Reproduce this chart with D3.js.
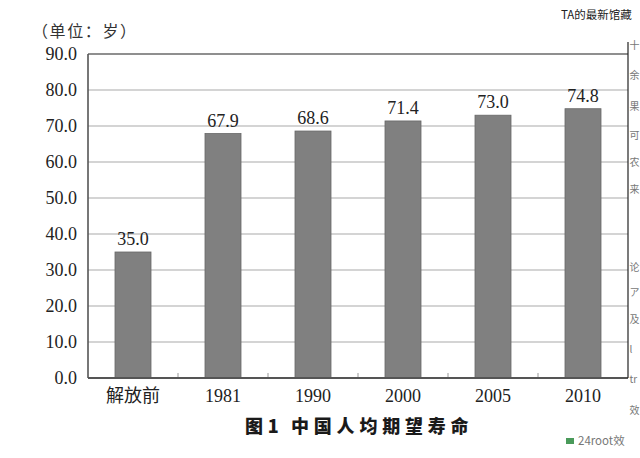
<!DOCTYPE html>
<html>
<head>
<meta charset="utf-8">
<script src="https://cdn.jsdelivr.net/npm/d3@7"></script>
<style>
  html, body { margin: 0; padding: 0; background: #fff; overflow: hidden; }
  svg { display: block; }
</style>
</head>
<body>
<svg id="chart" width="640" height="458"></svg>
<script>
const categories = ["解放前", "1981", "1990", "2000", "2005", "2010"];
const lifeExpectancy = [35.0, 67.9, 68.6, 71.4, 73.0, 74.8];
const yTicks = [0, 10, 20, 30, 40, 50, 60, 70, 80, 90];
const unitLabel = "（单位：岁）";
const titleLabel = ["图1", "中国人均期望寿命"];
const sidebarTitle = "TA的最新馆藏";
const sidebarFragments = ["十", "余", "果", "可", "农", "来", "论", "ア", "及", "l", "tr", "效"];
const sidebarFooter = "24root效";

const svg = d3.select("#chart");
const serif = "'Liberation Serif', 'Times New Roman', 'Noto Sans CJK SC', serif";
const cjk = "'Noto Sans CJK SC', sans-serif";

const x = d3.scaleBand().domain(categories).range([88, 628]).paddingInner(0.6).paddingOuter(0.3);
const y = d3.scaleLinear().domain([0, 90]).range([378, 54]);

// gridlines
svg.append("g").selectAll("line").data(yTicks.filter(d => d > 0 && d < 90)).join("line")
  .attr("x1", 88).attr("x2", 628)
  .attr("y1", d => y(d)).attr("y2", d => y(d))
  .attr("stroke", "#a9a9a9").attr("stroke-width", 1.2);

// top frame line
svg.append("line").attr("x1", 88).attr("x2", 628).attr("y1", y(90)).attr("y2", y(90))
  .attr("stroke", "#6a6a6a").attr("stroke-width", 1.4);

// y tick labels
svg.append("g").selectAll("text").data(yTicks).join("text")
  .attr("x", 77).attr("y", d => y(d) + 6)
  .attr("text-anchor", "end")
  .attr("font-family", serif).attr("font-size", 18).attr("fill", "#222")
  .text(d => d3.format(".1f")(d));

// bars
svg.append("g").selectAll("rect").data(lifeExpectancy).join("rect")
  .attr("x", (d, i) => x(categories[i]))
  .attr("y", d => y(d))
  .attr("width", x.bandwidth())
  .attr("height", d => y(0) - y(d))
  .attr("fill", "#808080")
  .attr("stroke", "#666").attr("stroke-width", 0.8);

// value labels
svg.append("g").selectAll("text").data(lifeExpectancy).join("text")
  .attr("x", (d, i) => x(categories[i]) + x.bandwidth() / 2)
  .attr("y", d => y(d) - 7)
  .attr("text-anchor", "middle")
  .attr("font-family", serif).attr("font-size", 18).attr("fill", "#222")
  .text(d => d3.format(".1f")(d));

// category boundary ticks
svg.append("g").selectAll("line").data(categories.slice(1)).join("line")
  .attr("x1", d => x(d) - x.step() * x.paddingInner() / 2)
  .attr("x2", d => x(d) - x.step() * x.paddingInner() / 2)
  .attr("y1", y(0)).attr("y2", y(0) - 5)
  .attr("stroke", "#999").attr("stroke-width", 1);

// axes lines
svg.append("line").attr("x1", 88).attr("x2", 88).attr("y1", y(90)).attr("y2", y(0))
  .attr("stroke", "#555").attr("stroke-width", 1.6);
svg.append("line").attr("x1", 88).attr("x2", 628).attr("y1", y(0)).attr("y2", y(0))
  .attr("stroke", "#555").attr("stroke-width", 1.8);

// x labels
svg.append("g").selectAll("text").data(categories).join("text")
  .attr("x", d => x(d) + x.bandwidth() / 2)
  .attr("y", 402)
  .attr("text-anchor", "middle")
  .attr("font-family", serif).attr("font-size", 18).attr("fill", "#222")
  .text(d => d);

// unit label
svg.append("text").attr("x", 32).attr("y", 37)
  .attr("font-family", serif).attr("font-size", 16).attr("fill", "#333")
  .attr("letter-spacing", 1.6)
  .text(unitLabel);

// title
const title = svg.append("text").attr("y", 433)
  .attr("font-family", cjk).attr("font-size", 18).attr("font-weight", 900)
  .attr("fill", "#1a1a1a").attr("letter-spacing", 4.8);
title.append("tspan").attr("x", 245).text(titleLabel[0]);
title.append("tspan").attr("x", 291).text(titleLabel[1]);

// right sidebar (partially visible web page overlay)
svg.append("line").attr("x1", 628).attr("x2", 628).attr("y1", 42).attr("y2", 378)
  .attr("stroke", "#222").attr("stroke-width", 1.2);
svg.append("text").attr("x", 561).attr("y", 19)
  .attr("font-family", cjk).attr("font-size", 11.5).attr("fill", "#222")
  .text(sidebarTitle);
const fragY = [49, 79, 110, 139, 166, 193, 271, 296, 323, 353, 383, 414];
svg.append("g").selectAll("text").data(sidebarFragments).join("text")
  .attr("x", 629.5)
  .attr("y", (d, i) => fragY[i])
  .attr("font-family", cjk).attr("font-size", 10).attr("fill", "#777")
  .text(d => d);
svg.append("rect").attr("x", 566).attr("y", 438).attr("width", 8).attr("height", 6).attr("fill", "#4a9a5a");
svg.append("text").attr("x", 578).attr("y", 445)
  .attr("font-family", cjk).attr("font-size", 11.5).attr("fill", "#777")
  .text(sidebarFooter);
</script>
</body>
</html>
